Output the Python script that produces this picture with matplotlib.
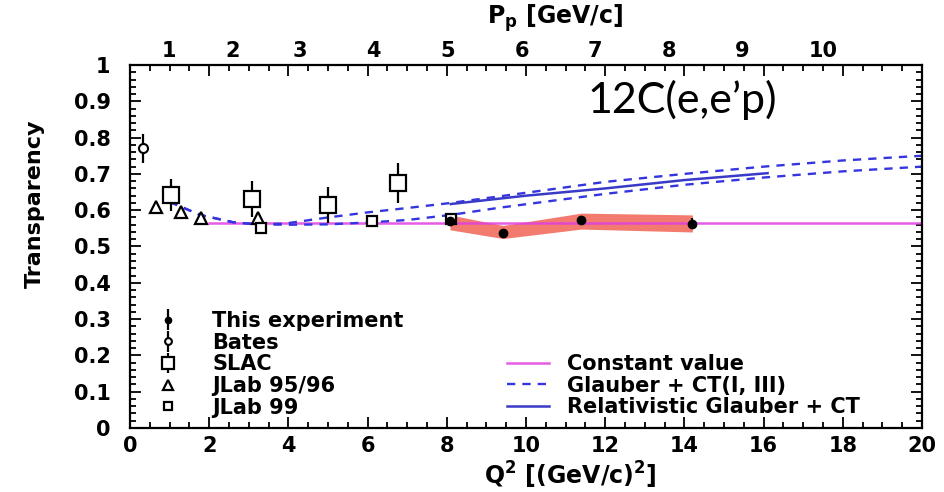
import matplotlib
matplotlib.use('Agg')
import matplotlib.pyplot as plt
from matplotlib.ticker import MultipleLocator, FormatStrFormatter

plt.rcParams['font.family'] = ['DejaVu Sans']
plt.rcParams['font.weight'] = 'bold'
plt.rcParams['mathtext.fontset'] = 'custom'
plt.rcParams['mathtext.rm'] = 'DejaVu Sans:bold'
plt.rcParams['mathtext.default'] = 'rm'

# data
exp_q2 = [8.08, 9.42, 11.4, 14.2]
exp_t = [0.570, 0.537, 0.573, 0.563]
exp_err = [0.008, 0.008, 0.012, 0.015]
band_lo = [0.546, 0.522, 0.548, 0.540]
band_hi = [0.587, 0.558, 0.592, 0.587]

bates_q2 = [0.33]
bates_t = [0.77]
bates_err = [0.04]

slac_q2 = [1.04, 3.08, 5.0, 6.77]
slac_t = [0.642, 0.630, 0.614, 0.675]
slac_err = [0.045, 0.05, 0.05, 0.055]

jlab9596_q2 = [0.66, 1.29, 1.79, 3.24]
jlab9596_t = [0.610, 0.595, 0.578, 0.578]

jlab99_q2 = [3.3, 6.1, 8.1]
jlab99_t = [0.550, 0.570, 0.576]

const_q2 = [2.0, 20.0]
const_t = [0.565, 0.565]

glauber_up_q2 = [1.0, 1.3, 1.77, 2.6, 3.2, 3.9, 5.0, 6.0, 7.0, 8.1, 10, 12, 14, 16, 18, 20]
glauber_up_t = [0.623, 0.609, 0.587, 0.567, 0.561, 0.563, 0.580, 0.594, 0.606, 0.620,
                0.648, 0.678, 0.700, 0.720, 0.737, 0.750]
glauber_lo_q2 = [1.0, 1.3, 1.77, 2.6, 3.2, 4.0, 5.0, 6.0, 7.0, 8.1, 9.34, 12, 14, 16, 18, 20]
glauber_lo_t = [0.623, 0.609, 0.587, 0.567, 0.561, 0.560, 0.561, 0.566, 0.573, 0.587,
                0.607, 0.645, 0.670, 0.690, 0.707, 0.720]

rel_q2 = [8.1, 10, 12, 14, 16.1]
rel_t = [0.617, 0.640, 0.660, 0.683, 0.702]

# top axis: proton momentum labels and where they sit in Q^2
p_labels = ['1', '2', '3', '4', '5', '6', '7', '8', '9', '10']
p_pos = [0.99, 2.6, 4.29, 6.14, 8.03, 9.9, 11.74, 13.6, 15.45, 17.5]

fig = plt.figure(figsize=(9.45, 4.92), dpi=100)
ax = fig.add_axes([130/945, 1-428/492, 792/945, 363/492])

band_col = '#f27a6e'
mag = '#e040e0'
blue = '#3535e0'

ax.fill_between(exp_q2, band_lo, band_hi, color=band_col, lw=0, zorder=1)
ax.plot(const_q2, const_t, color=mag, lw=1.8, zorder=2, alpha=0.85, label='Constant value')
ax.plot(glauber_up_q2, glauber_up_t, color=blue, lw=1.7, dashes=(3.5, 3), zorder=2,
        label='Glauber + CT(I, III)')
ax.plot(glauber_lo_q2, glauber_lo_t, color=blue, lw=1.7, dashes=(3.5, 3), zorder=2)
ax.plot(rel_q2, rel_t, color='#3a3ac8', lw=1.8, zorder=2, label='Relativistic Glauber + CT')

h_exp = ax.errorbar(exp_q2, exp_t, yerr=exp_err, fmt='o', color='k', ms=6, capsize=0,
                    elinewidth=1.6, zorder=4)
h_bates = ax.errorbar(bates_q2, bates_t, yerr=bates_err, fmt='o', mfc='white', mec='k',
                      ecolor='k', ms=6.5, mew=1.5, capsize=0, elinewidth=1.6, zorder=4)
h_slac = ax.errorbar(slac_q2, slac_t, yerr=slac_err, fmt='s', mfc='white', mec='k',
                     ecolor='k', ms=11.5, mew=1.6, capsize=0, elinewidth=1.6, zorder=4)
h_j95, = ax.plot(jlab9596_q2, jlab9596_t, '^', mfc='white', mec='k', ms=9, mew=1.6,
                 ls='none', zorder=4)
h_j99, = ax.plot(jlab99_q2, jlab99_t, 's', mfc='white', mec='k', ms=7.5, mew=1.6,
                 ls='none', zorder=4)

ax.set_xlim(0, 20)
ax.set_ylim(0, 1)
ax.xaxis.set_major_locator(MultipleLocator(2))
ax.xaxis.set_minor_locator(MultipleLocator(0.5))
ax.yaxis.set_major_locator(MultipleLocator(0.1))
ax.yaxis.set_minor_locator(MultipleLocator(0.02))
ax.yaxis.set_major_formatter(FormatStrFormatter('%g'))
ax.tick_params(which='both', direction='in', top=True, right=True, width=1.3,
               labelsize=15)
ax.tick_params(axis='x', pad=6)
ax.tick_params(axis='y', pad=14)
ax.tick_params(which='major', length=8)
ax.tick_params(which='minor', length=4)
for s in ax.spines.values():
    s.set_linewidth(1.6)

top = ax.secondary_xaxis('top')
top.set_xticks(p_pos)
top.set_xticklabels(p_labels)
top.tick_params(length=0, labelsize=15, pad=3)
top.spines['top'].set_visible(False)

leg1 = ax.legend([h_exp, h_bates, h_slac, h_j95, h_j99],
                 ['This experiment', 'Bates', 'SLAC', 'JLab 95/96', 'JLab 99'],
                 loc='upper left', bbox_to_anchor=(152/945, 1-311/492),
                 bbox_transform=fig.transFigure, frameon=False, fontsize=15,
                 handlelength=1.5, handletextpad=1.4, labelspacing=0.08,
                 borderpad=0, borderaxespad=0, markerscale=0.75)
ax.add_artist(leg1)
ax.legend(loc='upper left', bbox_to_anchor=(507/945, 1-354/492),
          bbox_transform=fig.transFigure, frameon=False, fontsize=15,
          handlelength=2.0, handletextpad=0.9, labelspacing=0.08,
          borderpad=0, borderaxespad=0)

fig.text(35/945, 1-204/492, 'Transparency', rotation=90, ha='center', va='center',
         fontsize=16)
fig.text(570/945, 1-475/492, 'Q$^2$ [(GeV/c)$^2$]', ha='center', va='center', fontsize=17)
fig.text(555/945, 1-18/492, 'P$_{p}$ [GeV/c]', ha='center', va='center', fontsize=17)
fig.text(587/945, 1-100/492, '12C(e,e\u2019p)', ha='left', va='center', fontsize=31,
         family='Lato', fontweight='normal')

fig.savefig('out.png', dpi=100)
